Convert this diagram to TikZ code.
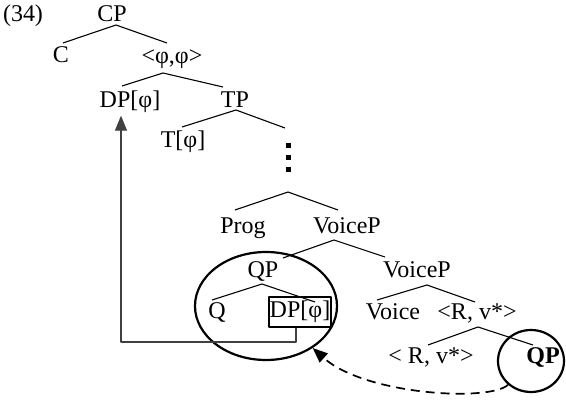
\documentclass[tikz,border=0pt]{standalone}
\usepackage{fontspec}
\setmainfont{Liberation Serif}
\usetikzlibrary{arrows.meta,shapes.geometric}
\begin{document}
\begin{tikzpicture}[x=1pt, y=-1pt, font=\fontsize{24}{28}\selectfont, line join=round, line width=1.1pt, >={Triangle[length=15pt,width=12pt]}]
		\tikzset{lab/.style={anchor=base, inner sep=0pt},
			ring/.style={draw, ellipse, line width=2.2pt, inner sep=0pt}}
		\useasboundingbox (0,0) rectangle (566,401);
		% branch points
		\path
		(116,25) coordinate (CPa) (63,43) coordinate (CPl) (167,43) coordinate (CPr)
		(163,73) coordinate (PPa) (122,86) coordinate (PPl) (223,87) coordinate (PPr)
		(236,110) coordinate (TPa) (182,127) coordinate (TPl) (285,128) coordinate (TPr)
		(288,192) coordinate (Xa) (235,210) coordinate (Xl) (338,210) coordinate (Xr)
		(334,240) coordinate (VPa) (283,258) coordinate (VPl) (385,257) coordinate (VPr)
		(262,284) coordinate (QPa) (212,300) coordinate (QPl) (315,302) coordinate (QPr)
		(427,285) coordinate (WPa) (377,300) coordinate (WPl) (475,302) coordinate (WPr)
		(478,327) coordinate (RVa) (428,345) coordinate (RVl) (533,345) coordinate (RVr)
		(121,342) coordinate (B)
		;
		\node[lab] (ex) at (23,22) {(34)};
		\node[lab] (CP) at (112,22) {CP};
		\node[lab] (C) at (61,63) {C};
		\node[lab] (PP) at (172,64) {<φ,φ>};
		\node[lab] (DP) at (130,108) {DP[φ]};
		\node[lab] (TP) at (235,108) {TP};
		\node[lab] (T) at (183,148) {T[φ]};
		\node[lab] (Prog) at (243,234) {Prog};
		\node[lab] (VP) at (347,234) {VoiceP};
		\node[lab] (QP) at (263,278) {QP};
		\node[lab] (VP2) at (417,278) {VoiceP};
		\node[lab] (Q) at (217,319) {Q};
		\node[draw, line width=1.8pt, minimum width=62pt, minimum height=30pt, inner sep=0pt] (DPb) at (300,312) {DP[φ]};
		\node[lab] (Voice) at (393,320) {Voice};
		\node[lab] (RV) at (477,320) {<R, v*>};
		\node[lab] (RV2) at (431,364) {< R, v*>};
		\node[lab, font=\fontsize{24}{28}\selectfont\bfseries] (QPx) at (543,363) {QP};
		
		\foreach \y in {145.5,157.5,169.5}
			\fill (288.5,\y) +(-2.5,-2.5) rectangle +(2.5,2.5);
		
		\draw (CPl)--(CPa)--(CPr) (PPl)--(PPa)--(PPr) (TPl)--(TPa)--(TPr) (Xl)--(Xa)--(Xr);
		\draw (VPl)--(VPa)--(VPr) (QPl)--(QPa)--(QPr) (WPl)--(WPa)--(WPr) (RVl)--(RVa)--(RVr);
		
		\node[ring, minimum width=142pt, minimum height=108pt] (big) at (266,306) {};
		\node[ring, minimum width=66pt, minimum height=62pt] (small) at (531,361) {};
		
		\draw[black!75, ->] ([xshift=-4pt]DPb.south) |- (B) -- ([yshift=-2pt]B |- DP.south);
		\draw[line width=1.7pt, dashed, dash pattern=on 9pt off 6pt, ->] (small.-134) .. controls (490,402) and (365,395) .. (big.-42);
\end{tikzpicture}
\end{document}
